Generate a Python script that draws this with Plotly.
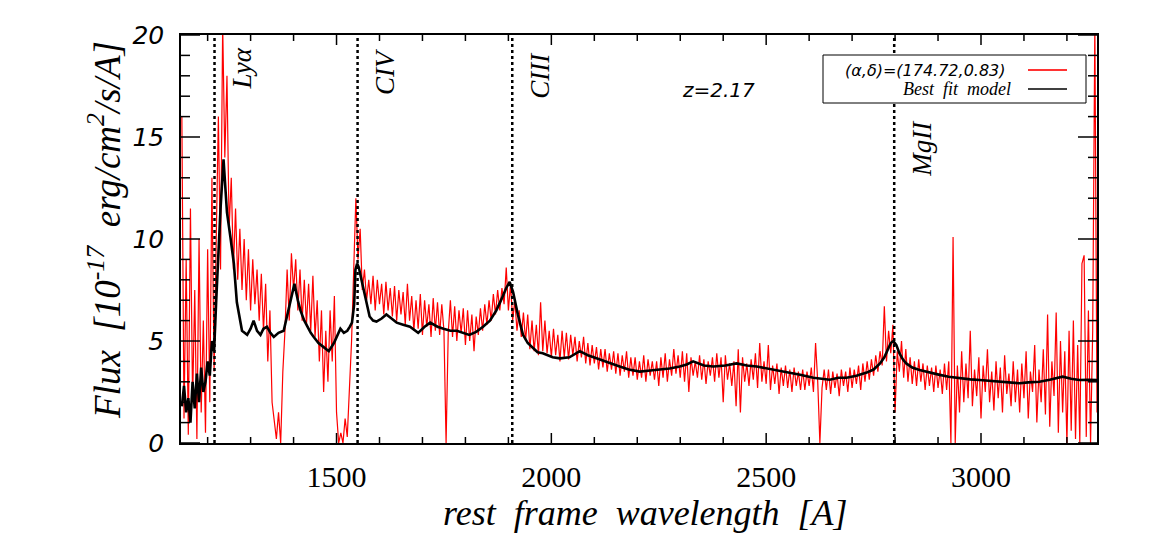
import numpy as np
import plotly.graph_objects as go

# ---------------- data ----------------
red_start = 1140.0   # first wavelength of the observed spectrum [A]
red_step = 5.0       # sampling of the observed spectrum [A]
red_flux = [
    # 1140-1185
    16.0, 1.2, 9.0, 0.4, 11.5, 2.0, 7.5, 0.2, 10.0, 1.5,
    # 1190-1235
    6.0, 0.5, 9.5, 2.0, 13.0, 3.5, 10.0, 16.0, 8.5, 20.5,
    # 1240-1285
    14.0, 18.0, 10.5, 13.0, 8.5, 11.5, 8.0, 10.5, 7.5, 10.0,
    # 1290-1335
    7.0, 9.5, 6.5, 9.0, 6.8, 8.5, 6.0, 8.3, 5.5, 7.8,
    # 1340-1385
    4.0, 6.5, 2.0, 1.0, 0.2, 1.5, 0.0, 3.5, 5.5, 8.5,
    # 1390-1435
    6.0, 9.3, 7.5, 9.0, 6.5, 8.5, 6.0, 8.0, 5.8, 7.8,
    # 1440-1485
    5.5, 8.2, 5.2, 7.0, 4.0, 6.5, 2.5, 5.5, 3.0, 6.5,
    # 1490-1535
    4.0, 7.2, 1.5, 0.0, 0.5, 0.0, 1.2, 0.3, 2.5, 5.0,
    # 1540-1585
    8.5, 12.0, 9.0, 10.5, 7.5, 8.5, 7.0, 8.0, 6.8, 8.2,
    # 1590-1635
    6.5, 8.0, 6.8, 7.8, 6.3, 7.9, 6.5, 7.6, 6.2, 7.7,
    # 1640-1685
    6.0, 7.5, 6.3, 7.4, 5.8, 7.8, 6.0, 7.2, 5.5, 7.0,
    # 1690-1735
    5.6, 7.3, 5.3, 7.0, 5.7, 6.8, 5.2, 7.1, 5.5, 6.9,
    # 1740-1785
    5.3, 6.8, 5.5, 0.0, 5.4, 7.0, 5.2, 6.7, 5.0, 6.5,
    # 1790-1835
    5.4, 6.6, 4.8, 6.5, 5.0, 6.3, 4.5, 6.2, 5.3, 6.6,
    # 1840-1885
    5.5, 6.8, 5.8, 7.0, 6.0, 7.3, 6.3, 7.5, 6.5, 7.6,
    # 1890-1935
    6.8, 8.6, 6.5, 7.8, 6.0, 7.0, 5.5, 6.5, 5.2, 6.4,
    # 1940-1985
    5.0, 6.3, 4.6, 6.0, 4.5, 5.8, 4.3, 6.9, 4.5, 6.0,
    # 1990-2035
    4.4, 5.5, 4.2, 5.6, 4.3, 5.3, 4.0, 5.5, 4.2, 5.4,
    # 2040-2085
    4.1, 5.3, 4.3, 5.2, 4.0, 5.0, 4.2, 5.2, 3.9, 4.9,
    # 2090-2135
    3.8, 4.8, 3.9, 4.7, 3.6, 4.6, 3.7, 4.6, 3.5, 4.4,
    # 2140-2185
    3.6, 4.5, 3.4, 4.4, 3.3, 4.3, 3.5, 4.5, 3.2, 4.2,
    # 2190-2235
    3.3, 4.2, 3.1, 4.0, 3.2, 4.3, 3.0, 4.1, 3.3, 4.0,
    # 2240-2285
    3.1, 4.0, 2.8, 4.2, 3.2, 4.4, 3.0, 4.1, 3.3, 4.6,
    # 2290-2335
    3.4, 4.3, 3.2, 4.5, 3.0, 4.4, 2.5, 4.2, 3.3, 4.0,
    # 2340-2385
    3.2, 4.3, 3.1, 4.1, 2.9, 4.0, 3.3, 4.2, 3.0, 4.4,
    # 2390-2435
    3.2, 4.2, 2.0, 4.3, 3.1, 3.9, 2.8, 4.0, 1.8, 4.6,
    # 2440-2485
    1.5, 4.2, 3.0, 3.9, 2.8, 4.1, 3.1, 4.4, 2.7, 4.9,
    # 2490-2535
    3.0, 4.0, 2.9, 4.8, 2.6, 3.8, 2.9, 3.9, 2.4, 3.7,
    # 2540-2585
    2.8, 3.8, 2.7, 3.6, 2.5, 3.7, 2.8, 3.5, 2.6, 3.6,
    # 2590-2635
    2.6, 3.5, 2.8, 3.7, 2.5, 4.9, 3.0, 0.0, 2.7, 3.6,
    # 2640-2685
    2.6, 3.6, 2.4, 3.5, 2.7, 3.4, 2.3, 3.6, 2.8, 3.5,
    # 2690-2735
    2.5, 3.7, 2.7, 3.6, 2.9, 3.8, 2.6, 3.9, 3.0, 4.0,
    # 2740-2785
    3.1, 4.1, 3.3, 4.3, 3.5, 4.5, 3.8, 6.7, 4.0, 5.5,
    # 2790-2835
    4.4, 5.8, 1.5, 4.5, 3.5, 5.0, 3.2, 4.6, 3.0, 4.2,
    # 2840-2885
    2.9, 4.0, 2.8, 4.1, 3.0, 3.9, 2.6, 3.8, 2.8, 3.7,
    # 2890-2935
    2.5, 3.8, 2.7, 3.6, 2.4, 3.9, 2.6, 4.0, 0.0, 10.1,
    # 2940-2985
    0.0, 3.8, 1.5, 4.5, 2.0, 3.9, 2.2, 5.5, 1.8, 3.6,
    # 2990-3035
    2.3, 4.2, 1.2, 3.8, 2.5, 4.6, 2.0, 3.5, 1.6, 4.0,
    # 3040-3085
    2.2, 3.7, 1.5, 4.3, 2.4, 3.4, 1.8, 4.0, 2.0, 3.6,
    # 3090-3135
    1.5, 3.9, 2.2, 4.5, 1.2, 3.5, 2.5, 4.8, 1.0, 3.6,
    # 3140-3185
    2.0, 4.6, 1.4, 6.3, 0.8, 4.0, 2.3, 6.4, 0.5, 5.0,
    # 3190-3235
    1.5, 4.5, 0.0, 5.5, 0.6, 6.0, 0.2, 4.8, 0.0, 8.8,
    # 3240-3270
    9.2, 0.3, 6.5, 0.0, 5.5, 20.5, 1.5,
]

model_wave = [
    1140, 1145, 1150, 1155, 1160, 1165, 1170, 1175, 1180, 1185,
    1190, 1195, 1200, 1205, 1210, 1215, 1220, 1225, 1230, 1237,
    1245, 1253, 1261, 1268, 1280, 1292, 1300, 1307, 1315, 1323,
    1330, 1338, 1346, 1354, 1365, 1377, 1385, 1393, 1402, 1410,
    1416, 1425, 1432, 1440, 1447, 1458, 1470, 1482, 1494, 1502,
    1509, 1517, 1525, 1531, 1536, 1541, 1544, 1548, 1552, 1558,
    1563, 1570, 1577, 1585, 1593, 1605, 1616, 1628, 1640, 1655,
    1671, 1690, 1705, 1718, 1735, 1749, 1765, 1780, 1795, 1809,
    1825, 1841, 1857, 1872, 1885, 1895, 1903, 1911, 1922, 1934,
    1945, 1957, 1968, 1980, 2003, 2020, 2042, 2066, 2085, 2105,
    2130, 2159, 2180, 2206, 2230, 2252, 2275, 2299, 2315, 2330,
    2355, 2377, 2405, 2431, 2455, 2478, 2505, 2532, 2555, 2579,
    2610, 2630, 2648, 2668, 2687, 2710, 2734, 2750, 2765, 2775,
    2784, 2790, 2796, 2803, 2810, 2818, 2826, 2840, 2857, 2880,
    2904, 2925, 2950, 2975, 2997, 3020, 3043, 3065, 3090, 3110,
    3136, 3160, 3190, 3210, 3229, 3250, 3270,
]
model_flux = [
    1.8, 2.8, 1.5, 2.2, 1.0, 3.0, 1.7, 3.4, 2.0, 3.7,
    2.5, 3.0, 4.0, 3.3, 5.0, 4.5, 7.0, 9.5, 11.5, 13.9,
    11.3, 10.1, 8.8, 6.9, 5.5, 5.3, 5.6, 6.0, 5.5, 5.3,
    5.6, 5.7, 5.4, 5.2, 5.4, 5.5, 6.2, 6.9, 7.8, 7.0,
    6.5, 6.0, 5.7, 5.4, 5.2, 4.9, 4.7, 4.5, 4.9, 5.3,
    5.6, 5.4, 5.5, 5.7, 5.9, 6.8, 8.5, 8.8, 8.6, 8.0,
    7.5, 6.8, 6.2, 6.0, 5.95, 6.1, 6.3, 6.1, 5.9, 5.8,
    5.7, 5.4, 5.7, 5.9, 5.7, 5.6, 5.5, 5.5, 5.4, 5.3,
    5.45, 5.7, 6.0, 6.5, 7.1, 7.6, 7.9, 7.4, 6.3, 5.3,
    4.9, 4.65, 4.45, 4.4, 4.2, 4.15, 4.2, 4.5, 4.3, 4.15,
    3.95, 3.75, 3.6, 3.5, 3.55, 3.6, 3.65, 3.75, 3.85, 4.0,
    3.8, 3.75, 3.8, 3.9, 3.8, 3.75, 3.65, 3.55, 3.45, 3.35,
    3.2, 3.15, 3.1, 3.2, 3.2, 3.3, 3.45, 3.6, 3.9, 4.2,
    4.6, 4.9, 5.0, 4.8, 4.4, 4.1, 3.9, 3.7, 3.58, 3.45,
    3.34, 3.25, 3.17, 3.12, 3.09, 3.05, 3.0, 2.95, 2.93, 2.97,
    3.0, 3.1, 3.25, 3.15, 3.09, 3.1, 3.08,
]
assert len(model_wave) == len(model_flux), (len(model_wave), len(model_flux))

line_names = ["Ly\u03b1", "CIV", "CIII", "MgII"]
line_waves = [1216, 1549, 1909, 2798]
redshift_text = "z=2.17"
obj_label = "(\u03b1,\u03b4)=(174.72,0.83)"
model_label = "Best fit model"

x_range = [1138, 3270]
y_range = [0, 20]
x_major, x_minor = 500, 100
y_major, y_minor = 5, 1

red_wave = red_start + red_step * np.arange(len(red_flux))

# ---------------- figure ----------------
W, H = 1150, 550
L, R, T, B = 181, 53, 35, 107
pw, ph = W - L - R, H - T - B


def px(xp):
    return (xp - L) / pw


def py(yp):
    return (H - B - yp) / ph


fig = go.Figure()
fig.add_trace(go.Scatter(x=red_wave, y=red_flux, mode="lines",
                         line=dict(color="#ff0000", width=1.2),
                         name=obj_label, showlegend=False))
fig.add_trace(go.Scatter(x=model_wave, y=model_flux, mode="lines",
                         line=dict(color="#000000", width=2.6),
                         name=model_label, showlegend=False))

# inward tick marks on all four sides, as one line trace (IDL style frame)
dx_per_px = (x_range[1] - x_range[0]) / pw
dy_per_px = (y_range[1] - y_range[0]) / ph
tx, ty = [], []
for v in np.arange(np.ceil(x_range[0] / x_minor) * x_minor, x_range[1] + 1, x_minor):
    tl = (10 if v % x_major == 0 else 6) * dy_per_px
    tx += [v, v, None, v, v, None]
    ty += [y_range[0], y_range[0] + tl, None, y_range[1], y_range[1] - tl, None]
for v in np.arange(y_range[0], y_range[1] + 0.5, y_minor):
    tl = (19 if v % y_major == 0 else 9) * dx_per_px
    tx += [x_range[0], x_range[0] + tl, None, x_range[1], x_range[1] - tl, None]
    ty += [v, v, None, v, v, None]
fig.add_trace(go.Scatter(x=tx, y=ty, mode="lines", line=dict(color="black", width=1.5),
                         hoverinfo="skip", showlegend=False))

# dotted emission-line markers and labels (label top edge in pixels)
label_top = [46, 46, 50, 118]
for name, lw, lt in zip(line_names, line_waves, label_top):
    fig.add_shape(type="line", x0=lw, x1=lw, y0=0, y1=1, xref="x", yref="paper",
                  line=dict(color="black", width=2.5, dash="dot"))
    fig.add_annotation(x=lw, y=py(lt), xref="x", yref="paper", xshift=27,
                       text="<i>" + name + "</i>", textangle=-90, showarrow=False,
                       xanchor="center", yanchor="top",
                       font=dict(family="Liberation Serif", size=27, color="black"))

fig.add_annotation(x=px(718), y=py(90), xref="paper", yref="paper",
                   text="<i>" + redshift_text + "</i>", showarrow=False,
                   xanchor="center", yanchor="middle",
                   font=dict(family="DejaVu Sans", size=20, color="black"))

# custom legend box (text on the left, line sample on the right)
fig.add_shape(type="rect", xref="paper", yref="paper",
              x0=px(823), x1=px(1086), y0=py(103), y1=py(55),
              line=dict(color="black", width=1), fillcolor="white")
fig.add_shape(type="line", xref="paper", yref="paper",
              x0=px(1028), x1=px(1067), y0=py(70), y1=py(70),
              line=dict(color="#ff3333", width=2))
fig.add_shape(type="line", xref="paper", yref="paper",
              x0=px(1028), x1=px(1067), y0=py(89), y1=py(89),
              line=dict(color="#404040", width=2))
fig.add_annotation(x=px(1008), y=py(70), xref="paper", yref="paper",
                   text="<i>" + obj_label + "</i>", showarrow=False,
                   xanchor="right", yanchor="middle",
                   font=dict(family="DejaVu Sans", size=16, color="black"))
fig.add_annotation(x=px(1013), y=py(89), xref="paper", yref="paper",
                   text="<i>" + model_label.replace(" ", "&nbsp;&nbsp;") + "</i>",
                   showarrow=False, xanchor="right", yanchor="middle",
                   font=dict(family="Liberation Serif", size=18, color="black"))

# axis titles
sp = "&nbsp;&nbsp;"
fig.add_annotation(x=px(645), y=py(513), xref="paper", yref="paper",
                   text="<i>" + sp.join(["rest", "frame", "wavelength", "[A]"]) + "</i>",
                   showarrow=False, xanchor="center", yanchor="middle",
                   font=dict(family="Liberation Serif", size=36, color="black"))
fig.add_annotation(x=px(104), y=py(230), xref="paper", yref="paper", textangle=-90,
                   text="<i>Flux" + sp + "[10<sup>-17</sup>" + sp
                        + "erg/cm<sup>2</sup>/s/A]</i>",
                   showarrow=False, xanchor="center", yanchor="middle",
                   font=dict(family="Liberation Serif", size=37, color="black"))

axis_common = dict(showgrid=False, zeroline=False, showline=True, linecolor="black",
                   linewidth=1.5, mirror=True, ticks="", tickmode="linear")
fig.update_xaxes(range=x_range, tick0=0, dtick=x_major, ticklabelstandoff=6,
                 tickfont=dict(family="Liberation Serif", size=30, color="black"),
                 **axis_common)
fig.update_yaxes(range=y_range, tick0=0, dtick=y_major,
                 tickfont=dict(family="DejaVu Sans", size=25, color="black", style="italic"),
                 ticklabelstandoff=10, **axis_common)

fig.update_layout(width=W, height=H, margin=dict(l=L, r=R, t=T, b=B),
                  paper_bgcolor="white", plot_bgcolor="white", showlegend=False)

fig.write_html("out.html")
